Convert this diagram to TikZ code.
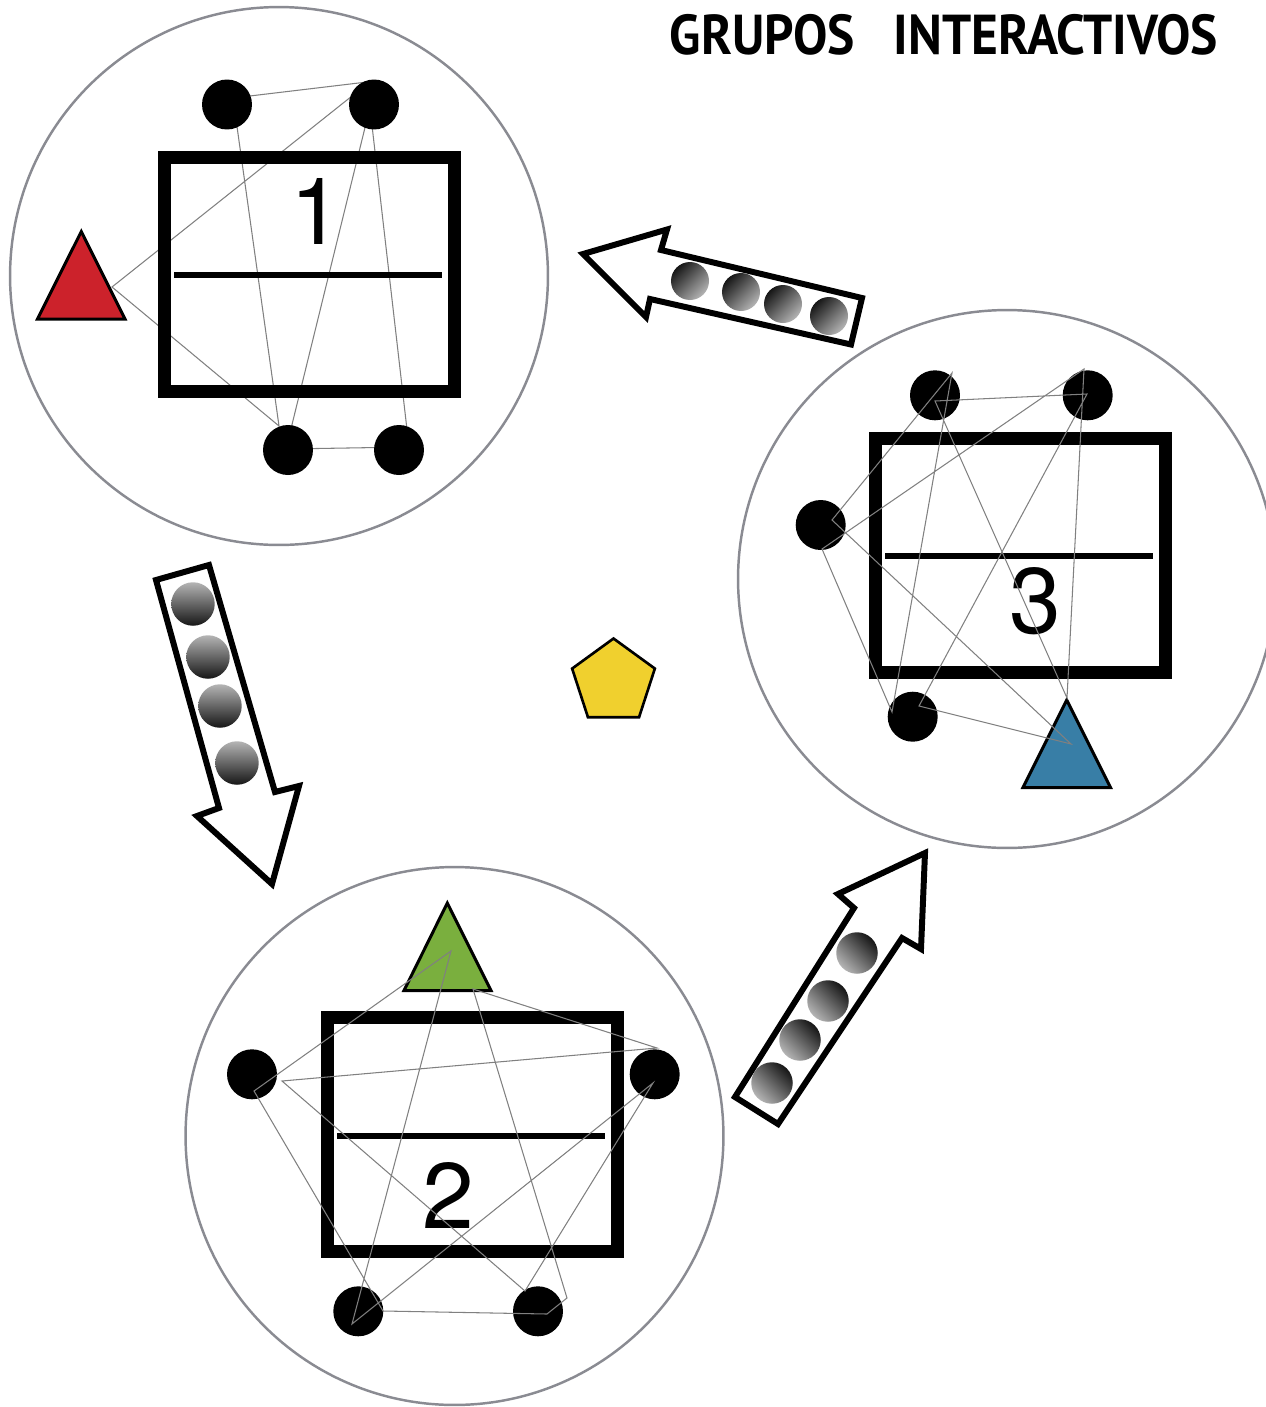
\documentclass[tikz,border=0pt]{standalone}
\usepackage{fontspec}
\setsansfont{TeX Gyre Heros}
\newfontfamily\titlefont{PT Sans}
\usetikzlibrary{shapes.geometric}
\definecolor{ringgray}{HTML}{8A8B92}
\definecolor{netgray}{HTML}{808080}
\definecolor{trired}{HTML}{CC222B}
\definecolor{triblue}{HTML}{387EA6}
\definecolor{trigreen}{HTML}{7AAF3E}
\definecolor{penyellow}{HTML}{F0D02E}
\definecolor{balllight}{HTML}{B4B4B4}
\definecolor{balldark}{HTML}{161616}

\begin{document}
\begin{tikzpicture}[x=.02cm,y=-.02cm,
	ring/.style={circle,draw=ringgray,line width=1.4pt,minimum size=10.76cm,inner sep=0pt},
	board/.style={rectangle,draw=black,line width=7.6pt,minimum width=5.8cm,minimum height=4.68cm,inner sep=0pt},
	pupil/.style={circle,fill=black,minimum size=1cm,inner sep=0pt},
	digit/.style={font=\sffamily\fontsize{53}{53}\selectfont,inner sep=0pt},
	divider/.style={line width=3.4pt},
	net/.style={draw=netgray,line width=.6pt,line join=miter},
	teacher/.style={draw=black,line width=1.7pt,line join=miter},
	flow/.style={draw=black,line width=3.4pt,line join=miter,miter limit=10},
	ball/.style={circle,inner sep=0pt,top color=balllight,bottom color=balldark}]

\useasboundingbox (0,0) rectangle (1265,1407);

\node[font=\titlefont\bfseries\fontsize{32}{32}\selectfont,inner sep=0pt] (title) at (944,35) {\scalebox{.915}[1]{GRUPOS\hspace{.75em}INTERACTIVOS}};

\node[ring] (ring1) at (279,276) {};
\node[ring] (ring2) at (454.5,1136) {};
\node[ring] (ring3) at (1007,579) {};

\coordinate (a1) at (233,98);
\coordinate (a2) at (367,82);
\coordinate (a3) at (409,447);
\coordinate (a4) at (286,449);
\coordinate (a5) at (373,95);
\coordinate (a6) at (352,96);
\coordinate (a7) at (112,287);
\coordinate (a8) at (279,426);
\draw[net] (a1) -- (a2) -- (a3) -- (a4) -- (a5) -- (a6) -- (a7) -- (a8) -- cycle;

\node[board] (board1) at (309.5,274.2) {};
\node[board] (board2) at (472.5,1134.5) {};
\node[board] (board3) at (1020.7,555.2) {};

\draw[divider] (174.3,275) -- (442.3,275);
\draw[divider] (337,1135.7) -- (605.3,1135.7);
\draw[divider] (885.3,556) -- (1153.3,556);

\node[digit] (one) at (316,211) {1};
\node[digit] (two) at (448.5,1195) {2};
\node[digit] (three) at (1035,600.7) {3};

\foreach \px/\py [count=\i] in {227/104.5,374/104.5,288/450,399/450}
	\node[pupil] (p1\i) at (\px,\py) {};
\foreach \px/\py [count=\i] in {252/1074.3,654.7/1074.3,358.3/1311.3,538/1311.3}
	\node[pupil] (p2\i) at (\px,\py) {};
\foreach \px/\py [count=\i] in {935/395.3,1087.7/395.3,820.7/525,912.7/716.7}
	\node[pupil] (p3\i) at (\px,\py) {};

\draw[teacher,fill=trired] (81.3,231.5) -- (125,319) -- (37.5,319) -- cycle;
\draw[teacher,fill=trigreen] (447.3,903) -- (491,990.5) -- (404,990.5) -- cycle;
\draw[teacher,fill=triblue] (1066.7,700) -- (1110.5,787.5) -- (1023,787.5) -- cycle;

\coordinate (b1) at (451,951);
\coordinate (b2) at (254,1091);
\coordinate (b3) at (383,1311);
\coordinate (b4) at (547,1314);
\coordinate (b5) at (567,1298);
\coordinate (b6) at (473,989);
\coordinate (b7) at (657,1048);
\coordinate (b8) at (282,1081);
\coordinate (b9) at (525,1291);
\coordinate (b10) at (653,1083);
\coordinate (b11) at (352,1324);
\draw[net] (b1) -- (b2) -- (b3) -- (b4) -- (b5) -- (b6) -- (b7) -- (b8) -- (b9) -- (b10) -- (b11) -- cycle;

\coordinate (c1) at (952,373);
\coordinate (c2) at (832,520);
\coordinate (c3) at (1071,744);
\coordinate (c4) at (919,706);
\coordinate (c5) at (1087,394);
\coordinate (c6) at (935,401);
\coordinate (c7) at (1067,698);
\coordinate (c8) at (1084,369);
\coordinate (c9) at (822,549);
\coordinate (c10) at (892,712);
\draw[net] (c1) -- (c2) -- (c3) -- (c4) -- (c5) -- (c6) -- (c7) -- (c8) -- (c9) -- (c10) -- cycle;

\node[regular polygon,regular polygon sides=5,draw=black,fill=penyellow,line width=1.5pt,minimum size=1.74cm,inner sep=0pt] (center) at (613.5,682) {};

\draw[flow] (583,254) -- (667,229.5) -- (661,250) -- (862,298) -- (851,344.5) -- (650,299) -- (646,317) -- cycle;
\draw[flow] (156,580) -- (209,565) -- (275,792) -- (299,786) -- (272,884) -- (197,816) -- (219,808) -- cycle;
\draw[flow] (735,1097) -- (778,1124) -- (902,938) -- (921,949) -- (925,853) -- (838,894) -- (854,908) -- cycle;

\foreach \bx/\by [count=\i] in {690/281,741/292,783/304,829/316}
	\node[ball,minimum size=.76cm,shading angle=225] (u\i) at (\bx,\by) {};
\foreach \bx/\by [count=\i] in {193/604,208/657,220/706,237/763}
	\node[ball,minimum size=.87cm] (v\i) at (\bx,\by) {};
\foreach \bx/\by [count=\i] in {772/1083,800/1040,828/1001,857/953}
	\node[ball,minimum size=.83cm,shading angle=135] (w\i) at (\bx,\by) {};

\end{tikzpicture}
\end{document}
